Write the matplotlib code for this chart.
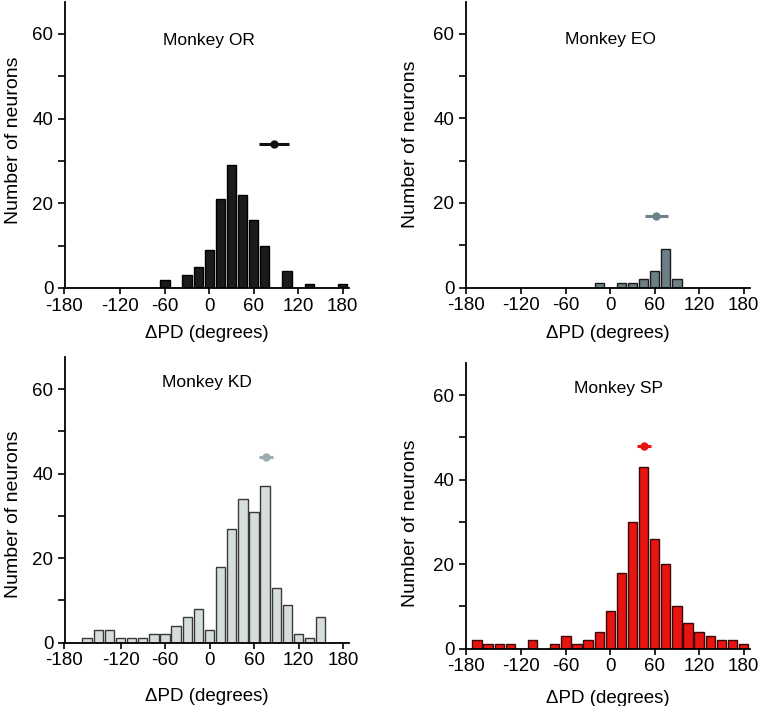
import matplotlib
matplotlib.use("Agg")
import matplotlib.pyplot as plt
from matplotlib.ticker import MultipleLocator

plt.rcParams['font.family'] = ['Liberation Sans', 'DejaVu Sans']

bin_centers = [-180, -165, -150, -135, -120, -105, -90, -75, -60, -45, -30, -15,
               0, 15, 30, 45, 60, 75, 90, 105, 120, 135, 150, 165, 180]

counts_or = [0, 0, 0, 0, 0, 0, 0, 0, 2, 0, 3, 5, 9, 21, 29, 22, 16, 10, 0, 4, 0, 1, 0, 0, 1]
counts_eo = [0, 0, 0, 0, 0, 0, 0, 0, 0, 0, 0, 1, 0, 1, 1, 2, 4, 9, 2, 0, 0, 0, 0, 0, 0]
counts_kd = [0, 1, 3, 3, 1, 1, 1, 2, 2, 4, 6, 8, 3, 18, 27, 34, 31, 37, 13, 9, 2, 1, 6, 0, 0]
counts_sp = [2, 1, 1, 1, 0, 2, 0, 1, 3, 1, 2, 4, 9, 18, 30, 43, 26, 20, 10, 6, 4, 3, 2, 2, 1]

means = [87, 62, 76, 45]
mean_lo = [67, 47.5, 66.7, 35.5]
mean_hi = [108, 78, 85.5, 55.4]
mean_y = [34, 17, 44, 48]

titles = ["Monkey OR", "Monkey EO", "Monkey KD", "Monkey SP"]
xtick_labels = ["-180", "-120", "-60", "0", "60", "120", "180"]

fills = ["#1b1b1b", "#6d7f86", "#d6dddd", "#e8140f"]
edges = ["#000000", "#1a1a1a", "#3a3a3a", "#3a0808"]
mcolors = ["#111111", "#6d8389", "#9cadb1", "#e8140f"]

W, H = 771, 706
fig = plt.figure(figsize=(W / 100, H / 100), dpi=100)

# axes rectangles in pixels: left, right, baseline, top
rects = [(64.5, 348.5, 288, 2), (465.5, 749.5, 287.5, 2),
         (64.5, 349, 642.7, 357.3), (465.5, 749.5, 648.7, 363.3)]
title_y = [0.867, 0.867, 0.91, 0.913]
title_x = [0.507, 0.51, 0.5, 0.54]
ylabel_x = [-0.148, -0.165, -0.148, -0.165]
ylabel_y = [0.515, 0.5, 0.45, 0.44]
xlabel_y = [-0.13, -0.13, -0.16, -0.143]

all_counts = [counts_or, counts_eo, counts_kd, counts_sp]
xmin, xmax = -195.5, 188

for i in range(4):
    l, r, b, t = rects[i]
    ax = fig.add_axes([l / W, 1 - b / H, (r - l) / W, (b - t) / H])
    ax.bar(bin_centers, all_counts[i], width=12.6, color=fills[i],
           edgecolor=edges[i], linewidth=1.0, zorder=2)
    ax.errorbar([means[i]], [mean_y[i]], xerr=[[means[i] - mean_lo[i]], [mean_hi[i] - means[i]]],
                fmt='o', color=mcolors[i], ecolor=mcolors[i], elinewidth=2.2,
                markersize=5, capsize=0, zorder=3)
    ax.set_xlim(xmin, xmax)
    ax.set_ylim(0, 67.5)
    ax.set_xticks([xmin, -120, -60, 0, 60, 120, 180])
    ax.set_xticklabels(xtick_labels)
    ax.set_yticks([0, 20, 40, 60])
    ax.yaxis.set_minor_locator(MultipleLocator(10))
    ax.spines['top'].set_visible(False)
    ax.spines['right'].set_visible(False)
    for s in ['left', 'bottom']:
        ax.spines[s].set_linewidth(1.3)
    ax.tick_params(axis='y', which='both', direction='out', length=5, width=1.2,
                   labelsize=13.5, pad=3)
    ax.tick_params(axis='x', direction='out', length=4, width=1.2,
                   labelsize=13.5, pad=3)
    ax.set_xlabel("\u0394PD (degrees)", fontsize=13.5)
    ax.xaxis.set_label_coords(0.5, xlabel_y[i])
    ax.set_ylabel("Number of neurons", fontsize=14)
    ax.yaxis.set_label_coords(ylabel_x[i], ylabel_y[i])
    ax.text(title_x[i], title_y[i], titles[i], transform=ax.transAxes,
            ha='center', va='center', fontsize=12.5)

fig.savefig("out.png", dpi=100)
